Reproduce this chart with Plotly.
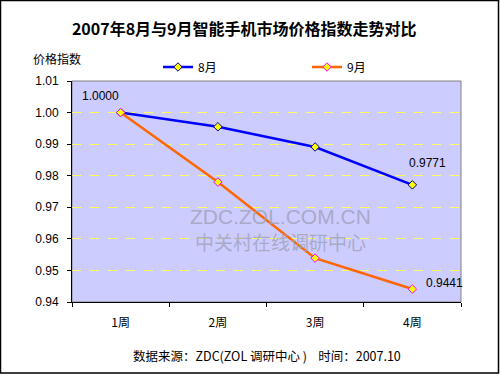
import plotly.graph_objects as go

weeks = ["1周", "2周", "3周", "4周"]
aug = [1.0000, 0.9955, 0.9891, 0.9771]
sep = [1.0000, 0.9780, 0.9539, 0.9441]
y_ticks = [0.94, 0.95, 0.96, 0.97, 0.98, 0.99, 1.00, 1.01]
y_ticktext = ["0.94", "0.95", "0.96", "0.97", "0.98", "0.99", "1.00", "1.01"]

cjk = "Noto Sans CJK SC"
latin = "Liberation Sans, Arial, sans-serif"

W, H = 500, 375
L, R, T, B = 72, 39, 81, 73
pw, ph = W - L - R, H - T - B

def px_x(x):
    return (x - L) / pw

def px_y(y):
    return (H - B - y) / ph

fig = go.Figure()
fig.add_trace(go.Scatter(
    x=weeks, y=aug, name="8月", mode="lines+markers",
    line=dict(color="#0000FF", width=2.5),
    marker=dict(symbol="diamond", size=6.5, color="#FFFF00", line=dict(color="#000080", width=1)),
))
fig.add_trace(go.Scatter(
    x=weeks, y=sep, name="9月", mode="lines+markers",
    line=dict(color="#FF6600", width=2.5),
    marker=dict(symbol="diamond", size=6.5, color="#FFFF00", line=dict(color="#FF00FF", width=1)),
))

lab_font = dict(family=latin, size=12, color="black")
# data labels
fig.add_annotation(x=weeks[0], y=aug[0], text=f"{aug[0]:.4f}", showarrow=False,
                   xanchor="center", yanchor="middle",
                   xshift=-20, yshift=17, font=lab_font)
fig.add_annotation(x=weeks[3], y=aug[3], text=f"{aug[3]:.4f}", showarrow=False,
                   xanchor="center", yanchor="middle",
                   xshift=15, yshift=22, font=lab_font)
fig.add_annotation(x=weeks[3], y=sep[3], text=f"{sep[3]:.4f}", showarrow=False,
                   xanchor="center", yanchor="middle",
                   xshift=32, yshift=6, font=lab_font)

# watermark
wm_color = "rgba(160,160,185,0.8)"
fig.add_annotation(x=px_x(280), y=px_y(216), xref="paper", yref="paper",
                   xanchor="center", yanchor="middle",
                   text="ZDC.ZOL.COM.CN", showarrow=False,
                   font=dict(family=latin, size=21, color=wm_color))
fig.add_annotation(x=px_x(280), y=px_y(241), xref="paper", yref="paper",
                   xanchor="center", yanchor="middle",
                   text="中关村在线调研中心", showarrow=False,
                   font=dict(family=cjk, size=19, color=wm_color))

# axis title / source
fig.add_annotation(x=px_x(31), y=px_y(59), xref="paper", yref="paper",
                   xanchor="left", yanchor="middle",
                   text="价格指数", showarrow=False, font=dict(family=cjk, size=12, color="black"))
fig.add_annotation(x=px_x(267), y=px_y(355), xref="paper", yref="paper",
                   xanchor="center", yanchor="middle",
                   text="数据来源：ZDC(ZOL 调研中心 )    时间：2007.10", showarrow=False,
                   font=dict(family=cjk, size=12.5, color="black"))

# outer frame
fig.add_shape(type="rect", xref="paper", yref="paper",
              x0=px_x(0.5), x1=px_x(498.5), y0=px_y(373), y1=px_y(0.5),
              line=dict(color="black", width=1.5))
# plot border gray
fig.add_shape(type="rect", xref="paper", yref="paper", x0=0, x1=1, y0=0, y1=1,
              line=dict(color="#808080", width=1), layer="below")

fig.update_layout(
    width=W, height=H,
    margin=dict(l=L, r=R, t=T, b=B, autoexpand=False),
    paper_bgcolor="white", plot_bgcolor="#CCCCFF",
    title=dict(text="<b>2007年8月与9月智能手机市场价格指数走势对比</b>",
               x=px_x(262), xanchor="center", y=1 - 29 / H, yanchor="middle",
               font=dict(family=cjk, size=16, color="black")),
    showlegend=True,
    legend=dict(orientation="h", x=px_x(158), y=px_y(67), xanchor="left", yanchor="middle",
                font=dict(family=cjk, size=12, color="black"),
                entrywidth=104, entrywidthmode="pixels", itemwidth=30,
                bgcolor="rgba(0,0,0,0)"),
    xaxis=dict(type="category", range=[-0.5, 3.5], tickson="boundaries",
               ticks="outside", ticklen=4, tickcolor="black", automargin=False,
               showline=True, linecolor="black", linewidth=1, mirror=False,
               showgrid=False, tickfont=dict(family=cjk, size=12, color="black"),
               ticklabelstandoff=10, fixedrange=True),
    yaxis=dict(range=[0.94, 1.01], tickvals=y_ticks, ticktext=y_ticktext,
               ticks="outside", ticklen=4, tickcolor="black", automargin=False,
               showline=True, linecolor="black", linewidth=1,
               showgrid=True, gridcolor="#FFFF66", griddash="dash", gridwidth=1,
               zeroline=False, tickfont=dict(family=latin, size=12, color="black"),
               ticklabelstandoff=6, fixedrange=True),
)

fig.write_html("out.html", config={"displayModeBar": False},
               post_script="document.body.style.margin='0';document.body.style.padding='0';")
